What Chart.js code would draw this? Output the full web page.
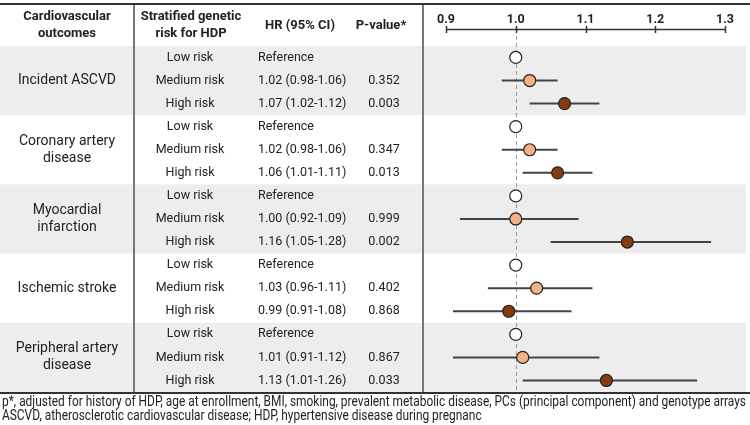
<!DOCTYPE html>
<html>
<head>
<meta charset="utf-8">
<script src="https://cdn.jsdelivr.net/npm/chart.js@4.4.0/dist/chart.umd.min.js"></script>
<style>
    html, body { margin: 0; padding: 0; background: #fff; }
    #wrap { width: 750px; height: 425px; }
</style>
</head>
<body>
<div id="wrap"><canvas id="forestChart" width="750" height="425"></canvas></div>
<script>
// Data
const outcomes = [
    ["Incident ASCVD"],
    ["Coronary artery", "disease"],
    ["Myocardial", "infarction"],
    ["Ischemic stroke"],
    ["Peripheral artery", "disease"]
];
const riskLevels = ["Low risk", "Medium risk", "High risk"];

const lowHR = [1.00, 1.00, 1.00, 1.00, 1.00];

const mediumHR = [1.02, 1.02, 1.00, 1.03, 1.01];
const mediumLo = [0.98, 0.98, 0.92, 0.96, 0.91];
const mediumHi = [1.06, 1.06, 1.09, 1.11, 1.12];
const mediumP  = ["0.352", "0.347", "0.999", "0.402", "0.867"];

const highHR = [1.07, 1.06, 1.16, 0.99, 1.13];
const highLo = [1.02, 1.01, 1.05, 0.91, 1.01];
const highHi = [1.12, 1.11, 1.28, 1.08, 1.26];
const highP  = ["0.003", "0.013", "0.002", "0.868", "0.033"];

const tickValues = [0.9, 1.0, 1.1, 1.2, 1.3];

const footnotes = [
    "p*, adjusted for history of HDP, age at enrollment, BMI, smoking, prevalent metabolic disease, PCs (principal component) and genotype arrays",
    "ASCVD, atherosclerotic cardiovascular disease; HDP, hypertensive disease during pregnanc"
];

const FONT = "Roboto, 'Noto Sans', sans-serif";
const TEXT = "#222";

function fmt(v) { return v.toFixed(2); }
function rowOf(outcome, risk) { return outcome * 3 + risk; }

const lowPoints = lowHR.map((v, i) => ({ x: v, y: rowOf(i, 0) }));
const mediumPoints = mediumHR.map((v, i) => ({ x: v, y: rowOf(i, 1) }));
const highPoints = highHR.map((v, i) => ({ x: v, y: rowOf(i, 2) }));

// Background table: bands, rules, text
const tablePlugin = {
    id: "tablePlugin",
    beforeDraw(chart) {
        const ctx = chart.ctx;
        const xs = chart.scales.x;
        const ys = chart.scales.y;
        const W = chart.width;
        const bottom = ys.getPixelForValue(14.5);

        ctx.save();
        ctx.fillStyle = "#fff";
        ctx.fillRect(0, 0, W, chart.height);

        // gray bands for alternating outcome groups
        ctx.fillStyle = "#ededed";
        outcomes.forEach((o, g) => {
            if (g % 2 !== 0) return;
            const t = ys.getPixelForValue(g * 3 - 0.5);
            const b = ys.getPixelForValue(g * 3 + 2.5);
            ctx.fillRect(0, t, 746, b - t);
        });

        // dashed reference line at HR = 1
        const x1 = xs.getPixelForValue(1.0);
        ctx.strokeStyle = "#999";
        ctx.lineWidth = 1;
        ctx.setLineDash([4, 3]);
        ctx.beginPath();
        ctx.moveTo(Math.round(x1) + 0.5, 36);
        ctx.lineTo(Math.round(x1) + 0.5, bottom);
        ctx.stroke();
        ctx.setLineDash([]);

        // axis line with ticks crossing it
        ctx.strokeStyle = "#333";
        ctx.lineWidth = 1.5;
        ctx.beginPath();
        ctx.moveTo(xs.getPixelForValue(tickValues[0]), 29.5);
        ctx.lineTo(xs.getPixelForValue(tickValues[tickValues.length - 1]), 29.5);
        tickValues.forEach(v => {
            const px = Math.round(xs.getPixelForValue(v)) + 0.5;
            ctx.moveTo(px, 26);
            ctx.lineTo(px, 33);
        });
        ctx.stroke();

        // vertical dividers
        ctx.strokeStyle = "#777";
        ctx.lineWidth = 2;
        ctx.beginPath();
        ctx.moveTo(134, 4); ctx.lineTo(134, bottom);
        ctx.moveTo(423, 4); ctx.lineTo(423, bottom);
        ctx.stroke();

        // top and bottom rules
        ctx.strokeStyle = "#333";
        ctx.lineWidth = 2;
        ctx.beginPath();
        ctx.moveTo(0, 4); ctx.lineTo(W, 4);
        ctx.moveTo(0, bottom + 1); ctx.lineTo(W, bottom + 1);
        ctx.stroke();

        // header
        ctx.fillStyle = TEXT;
        ctx.textBaseline = "middle";
        ctx.textAlign = "center";
        ctx.font = "bold 13px " + FONT;
        ctx.fillText("Cardiovascular", 67, 17);
        ctx.fillText("outcomes", 67, 34);
        ctx.fillText("Stratified genetic", 191, 17);
        ctx.fillText("risk for HDP", 191, 34);
        ctx.fillText("HR (95% CI)", 300, 26);
        ctx.fillText("P-value*", 381, 26);

        // outcome names
        ctx.font = "14px " + FONT;
        outcomes.forEach((lines, g) => {
            const cy = ys.getPixelForValue(g * 3 + 1);
            const start = cy - (lines.length - 1) * 8.5;
            lines.forEach((ln, k) => ctx.fillText(ln, 67, start + k * 17));
        });

        // risk rows
        ctx.font = "12.5px " + FONT;
        outcomes.forEach((lines, g) => {
            riskLevels.forEach((r, k) => {
                const cy = ys.getPixelForValue(rowOf(g, k));
                ctx.textAlign = "center";
                ctx.fillText(r, 190, cy);
                ctx.textAlign = "left";
                if (k === 0) {
                    ctx.fillText("Reference", 258, cy);
                } else {
                    const hr = k === 1 ? mediumHR : highHR;
                    const lo = k === 1 ? mediumLo : highLo;
                    const hi = k === 1 ? mediumHi : highHi;
                    const p = k === 1 ? mediumP : highP;
                    ctx.fillText(fmt(hr[g]) + " (" + fmt(lo[g]) + "-" + fmt(hi[g]) + ")", 258, cy);
                    ctx.textAlign = "center";
                    ctx.fillText(p[g], 384, cy);
                }
            });
        });

        // footnotes, condensed to fit the width
        ctx.font = "14px " + FONT;
        ctx.textAlign = "left";
        const squeeze = 744 / ctx.measureText(footnotes[0]).width;
        footnotes.forEach((line, k) => {
            ctx.save();
            ctx.translate(2, 402 + k * 14.5);
            ctx.scale(squeeze, 1);
            ctx.fillText(line, 0, 0);
            ctx.restore();
        });
        ctx.restore();
    },
    beforeDatasetsDraw(chart) {
        // confidence interval whiskers
        const ctx = chart.ctx;
        const xs = chart.scales.x;
        const ys = chart.scales.y;
        ctx.save();
        ctx.strokeStyle = "#444";
        ctx.lineWidth = 2;
        ctx.beginPath();
        outcomes.forEach((o, g) => {
            const ym = ys.getPixelForValue(rowOf(g, 1));
            ctx.moveTo(xs.getPixelForValue(mediumLo[g]), ym);
            ctx.lineTo(xs.getPixelForValue(mediumHi[g]), ym);
            const yh = ys.getPixelForValue(rowOf(g, 2));
            ctx.moveTo(xs.getPixelForValue(highLo[g]), yh);
            ctx.lineTo(xs.getPixelForValue(highHi[g]), yh);
        });
        ctx.stroke();
        ctx.restore();
    }
};

function pointSet(label, data, fill) {
    return {
        label: label,
        data: data,
        backgroundColor: fill,
        borderColor: "#222",
        borderWidth: 1.2,
        pointRadius: 6,
        pointHoverRadius: 6
    };
}

new Chart(document.getElementById("forestChart"), {
    type: "scatter",
    data: {
        datasets: [
            pointSet("Low risk", lowPoints, "#ffffff"),
            pointSet("Medium risk", mediumPoints, "#f4b183"),
            pointSet("High risk", highPoints, "#843c0c")
        ]
    },
    options: {
        responsive: false,
        animation: false,
        events: [],
        layout: { padding: { left: 446, right: 25, top: 0, bottom: 33 } },
        plugins: { legend: { display: false }, tooltip: { enabled: false } },
        scales: {
            x: {
                type: "linear",
                position: "top",
                min: 0.9,
                max: 1.3,
                afterBuildTicks: scale => { scale.ticks = tickValues.map(v => ({ value: v })); },
                afterFit: scale => { scale.height = 30; },
                grid: { display: false, drawTicks: false },
                border: { display: false },
                ticks: {
                    padding: 3,
                    color: TEXT,
                    font: { family: FONT, size: 12.5, weight: "bold" },
                    callback: v => v.toFixed(1)
                }
            },
            y: {
                type: "linear",
                display: false,
                reverse: true,
                min: -1.19,
                max: 14.5
            }
        }
    },
    plugins: [tablePlugin]
});
</script>
</body>
</html>
